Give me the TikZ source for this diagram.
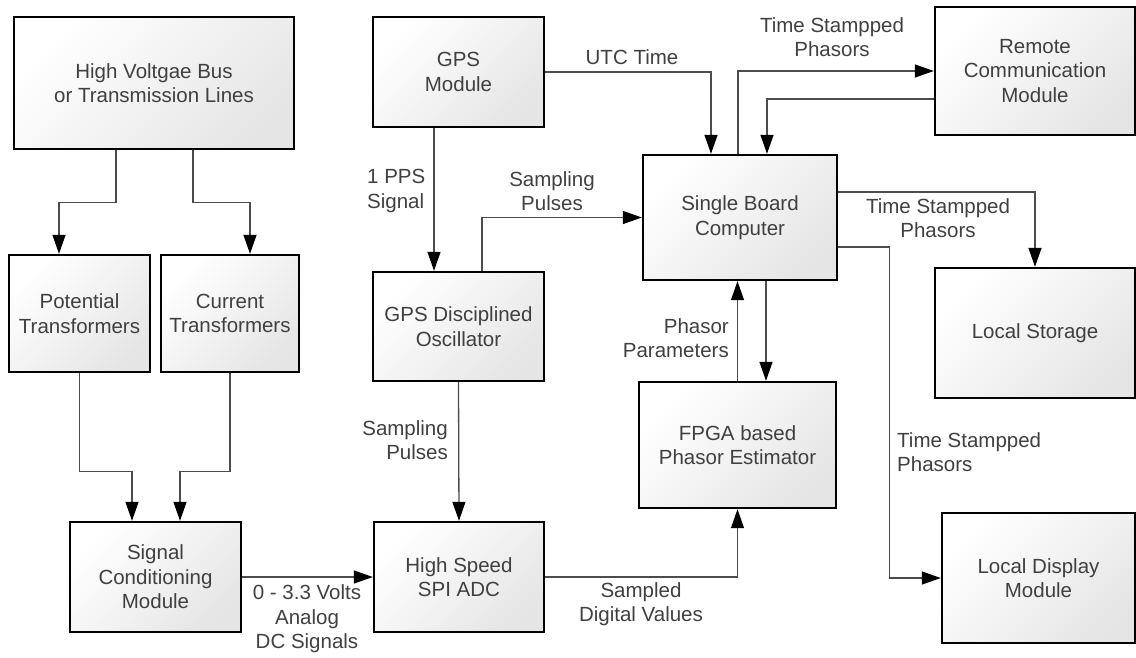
\documentclass[tikz,border=0pt]{standalone}
\usepackage{fontspec}
\setmainfont{Liberation Sans}
\usetikzlibrary{arrows.meta}

\begin{document}
\begin{tikzpicture}[x=1pt,y=-1pt,line join=miter,
  block/.style={draw=black,line width=2.4pt,top color=white,bottom color=black!10,
    shading angle=45,text=black!75,font=\fontsize{20.5}{24.5}\selectfont,
    align=center,inner sep=0pt},
  conn/.style={draw=black!70,line width=1.3pt,
    -{Triangle[length=19pt,width=13pt,color=black]}},
  lbl/.style={text=black!75,font=\fontsize{20.5}{24.5}\selectfont,inner sep=0pt}]
  \useasboundingbox (0,0) rectangle (1136,657);

  % blocks
  \node[block,minimum width=280pt,minimum height=132pt] (hvbus) at (154,83)
    {High Voltgae Bus\\or Transmission Lines};
  \node[block,minimum width=141pt,minimum height=117pt] (pt) at (79.5,313.5)
    {Potential\\Transformers};
  \node[block,minimum width=138pt,minimum height=117pt] (ct) at (230,313.5)
    {Current\\Transformers};
  \node[block,minimum width=171pt,minimum height=110pt] (scm) at (155.5,577)
    {Signal\\Conditioning\\Module};
  \node[block,minimum width=171pt,minimum height=110pt] (gps) at (458.5,72)
    {GPS\\Module};
  \node[block,minimum width=171pt,minimum height=109pt] (gpsdo) at (458.5,326.5)
    {GPS Disciplined\\Oscillator};
  \node[block,minimum width=170pt,minimum height=110pt] (adc) at (459,577)
    {High Speed\\SPI ADC};
  \node[block,minimum width=194pt,minimum height=125pt] (sbc) at (740,217.5)
    {Single Board\\Computer};
  \node[block,minimum width=197pt,minimum height=126pt] (fpga) at (737.5,445)
    {FPGA based\\Phasor Estimator};
  \node[block,minimum width=200pt,minimum height=128pt] (remote) at (1035,71)
    {Remote\\Communication\\Module};
  \node[block,minimum width=200pt,minimum height=130pt] (storage) at (1035,333)
    {Local Storage};
  \node[block,minimum width=193pt,minimum height=130pt] (display) at (1038.5,578)
    {Local Display\\Module};

  % connectors
  \draw[conn] ([xshift=-38pt]hvbus.south) -- ++(0,52) -| ([xshift=-20.5pt]pt.north);
  \draw[conn] ([xshift=39pt]hvbus.south) -- ++(0,52) -| ([xshift=20pt]ct.north);
  \draw[conn] (pt.south) -- ++(0,98) -| ([xshift=-23.5pt]scm.north);
  \draw[conn] (ct.south) -- ++(0,98) -| ([xshift=24.5pt]scm.north);
  \draw[conn] (scm.east) -- (adc.west);
  \draw[conn] ([xshift=-24.5pt]gps.south) -- ([xshift=-24.5pt]gpsdo.north);
  \draw[conn] (gps.east) -| ([xshift=-29pt]sbc.north);
  \draw[conn] ([xshift=23.5pt]gpsdo.north) |- (sbc.west);
  \draw[conn] (gpsdo.south) -- (adc.north);
  \draw[conn] ([xshift=-2pt]sbc.north) |- (remote.west);
  \draw[conn] ([yshift=-28pt]remote.west) -| ([xshift=27pt]sbc.north);
  \draw[conn] ([yshift=25.5pt]sbc.east) -| (storage.north);
  \draw[conn] ([yshift=-29.5pt]sbc.east) -- ++(51,0) |- (display.west);
  \draw[conn] ([xshift=26pt]sbc.south) -- ([xshift=26pt]sbc.south |- fpga.north);
  \draw[conn] (fpga.north) -- (fpga.north |- sbc.south);
  \draw[conn] (adc.east) -| (fpga.south);

  % labels
  \node[lbl] (utc) at (632,57) {UTC Time};
  \node[lbl,anchor=west,align=left] (pps) at (367,191) {1 PPS\\Signal};
  \node[lbl,align=center] (spulse) at (552,191) {Sampling\\Pulses};
  \node[lbl,anchor=east,align=right] (adcpulse) at (448,440) {Sampling\\Pulses};
  \node[lbl,align=center] (analog) at (307,619) {0 - 3.3 Volts\\Analog\\DC Signals};
  \node[lbl,align=center] (digital) at (641,604) {Sampled\\Digital Values};
  \node[lbl,anchor=east,align=right] (params) at (729,338) {Phasor\\Parameters};
  \node[lbl,align=center] (tsremote) at (832,37) {Time Stampped\\Phasors};
  \node[lbl,align=center] (tsstore) at (938,218) {Time Stampped\\Phasors};
  \node[lbl,anchor=west,align=left] (tsdisp) at (897,452) {Time Stampped\\Phasors};
\end{tikzpicture}
\end{document}
